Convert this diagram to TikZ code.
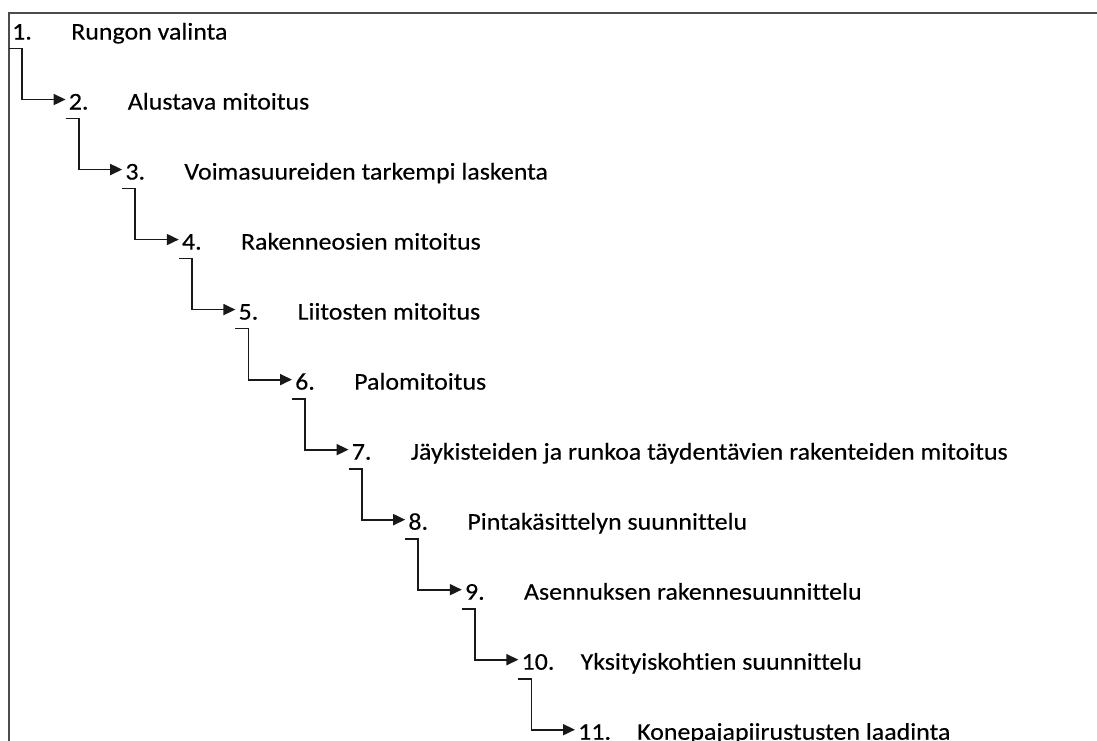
\documentclass[tikz,border=0pt]{standalone}
\usepackage{fontspec}
\setmainfont{Carlito}[RawFeature=-liga, FakeStretch=1.08, FakeBold=0.3]
\usetikzlibrary{arrows.meta}
\begin{document}
\begin{tikzpicture}[x=1pt,y=-1pt,
  frameline/.style={draw=black!70, line width=2pt},
  conn/.style={draw=black!90, line width=1.8pt, -{Triangle[length=12pt,width=11pt]}},
  num/.style={anchor=base west, inner sep=0pt, text=black, font=\fontsize{24}{28}\selectfont},
  lbl/.style={num}]
\clip (0,0) rectangle (1097,740);
\draw[frameline] (1098,13) -- (9,13) -- (9,742);
\foreach \k/\t in {1/Rungon valinta,
                   2/Alustava mitoitus,
                   3/Voimasuureiden tarkempi laskenta,
                   4/Rakenneosien mitoitus,
                   5/Liitosten mitoitus,
                   6/Palomitoitus,
                   7/Jäykisteiden ja runkoa täydentävien rakenteiden mitoitus,
                   8/Pintakäsittelyn suunnittelu,
                   9/Asennuksen rakennesuunnittelu,
                   10/Yksityiskohtien suunnittelu,
                   11/Konepajapiirustusten laadinta} {
  \pgfmathsetmacro\xx{12+(\k-1)*56.6}
  \pgfmathsetmacro\yy{39.5+(\k-1)*70.02}
  \node[num] (n\k) at (\xx,\yy) {\k.};
  \node[lbl] (t\k) at (\xx+59,\yy) {\t};
}
\foreach \k [evaluate=\k as \j using int(\k+1)] in {1,...,10} {
  \draw[conn] ([xshift=-3pt,yshift=-9pt]n\k.base west) -- ++(13,0)
     |- ([xshift=-3pt,yshift=10pt]n\j.base west);
}
\end{tikzpicture}
\end{document}
